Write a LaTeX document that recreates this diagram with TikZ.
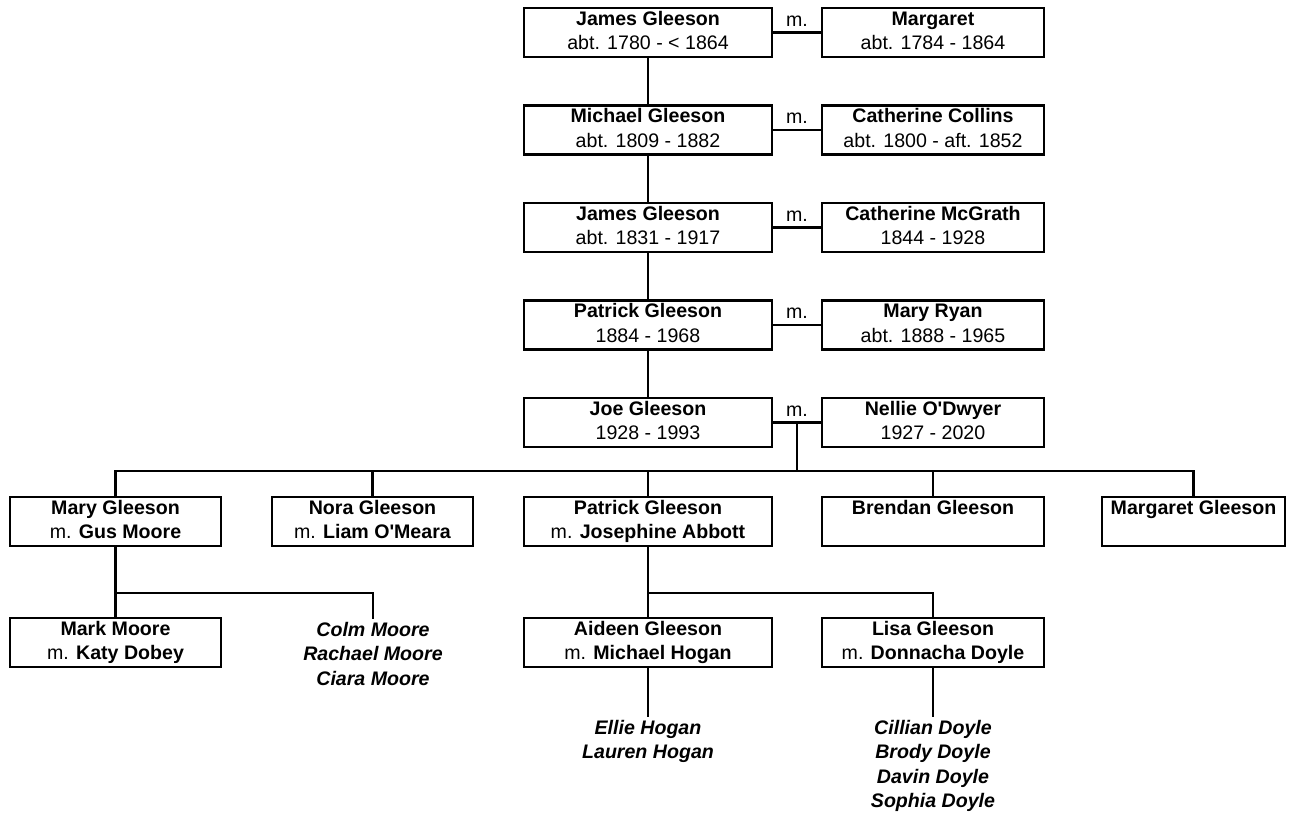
\documentclass[tikz,border=0pt]{standalone}
\usepackage{fontspec}
\newfontfamily\treefont{Liberation Sans}
\usepackage{tikz}
\usetikzlibrary{shadows}

\newcommand{\treesize}{\treefont\fontsize{9.8}{12.25}\selectfont}
\newcommand{\pname}[2]{\textbf{#1}\strut\\#2\strut}

\begin{document}
\begin{tikzpicture}[x=0.5pt, y=-0.5pt, line width=1.1pt, line cap=rect,
  font=\treesize,
  person/.style={draw, fill=white, minimum height=24.5pt, inner sep=0pt, align=center,
    drop shadow={shadow xshift=0.5pt, shadow yshift=-0.5pt, fill=black, opacity=1}},
  wide/.style={person, minimum width=124pt},
  narrow/.style={person, minimum width=111pt},
  sibs/.style={align=center, inner sep=0pt, anchor=north, font=\treesize\bfseries\itshape},
  wed/.style={above, inner sep=2.5pt}]
\useasboundingbox (0,0) rectangle (1294,815);

% direct line
\node[wide] (james1) at (648,32.5) {\pname{James Gleeson}{abt. 1780 - < 1864}};
\node[narrow] (margaret) at (933,32.5) {\pname{Margaret}{abt. 1784 - 1864}};
\node[wide] (michael) at (648,130) {\pname{Michael Gleeson}{abt. 1809 - 1882}};
\node[narrow] (collins) at (933,130) {\pname{Catherine Collins}{abt. 1800 - aft. 1852}};
\node[wide] (james2) at (648,227.5) {\pname{James Gleeson}{abt. 1831 - 1917}};
\node[narrow] (mcgrath) at (933,227.5) {\pname{Catherine McGrath}{1844 - 1928}};
\node[wide] (patrick1) at (648,325) {\pname{Patrick Gleeson}{1884 - 1968}};
\node[narrow] (ryan) at (933,325) {\pname{Mary Ryan}{abt. 1888 - 1965}};
\node[wide] (joe) at (648,422.5) {\pname{Joe Gleeson}{1928 - 1993}};
\node[narrow] (nellie) at (933,422.5) {\pname{Nellie O\textquotesingle Dwyer}{1927 - 2020}};

\draw (james1) -- node[wed] {m.} (margaret);
\draw (michael) -- node[wed] {m.} (collins);
\draw (james2) -- node[wed] {m.} (mcgrath);
\draw (patrick1) -- node[wed] {m.} (ryan);
\draw (joe) -- node[wed] {m.} coordinate[midway] (jn) (nellie);
\draw (james1) -- (michael);
\draw (michael) -- (james2);
\draw (james2) -- (patrick1);
\draw (patrick1) -- (joe);

% children of Joe and Nellie
\node[person, minimum width=105.5pt] (mary) at (115.5,521.5) {\pname{Mary Gleeson}{m. \textbf{Gus Moore}}};
\node[person, minimum width=100.5pt] (nora) at (372.5,521.5) {\pname{Nora Gleeson}{m. \textbf{Liam O\textquotesingle Meara}}};
\node[wide] (patrick2) at (648,521.5) {\pname{Patrick Gleeson}{m. \textbf{Josephine Abbott}}};
\node[narrow] (brendan) at (933,521.5) {\pname{Brendan Gleeson}{}};
\node[person, minimum width=91.5pt] (margaretg) at (1193.5,521.5) {\pname{Margaret Gleeson}{}};

\coordinate (kidbar) at (0,471);
\draw (jn) -- (jn |- kidbar);
\draw (mary.north |- kidbar) -- (margaretg.north |- kidbar);
\foreach \k in {mary,nora,patrick2,brendan,margaretg}
  \draw (\k.north |- kidbar) -- (\k);

% grandchildren
\node[person, minimum width=105.5pt] (mark) at (115.5,642.5) {\pname{Mark Moore}{m. \textbf{Katy Dobey}}};
\node[sibs] (moores) at (373,618) {\strut Colm Moore\\Rachael Moore\\Ciara Moore};
\node[wide] (aideen) at (648,642.5) {\pname{Aideen Gleeson}{m. \textbf{Michael Hogan}}};
\node[narrow] (lisa) at (933,642.5) {\pname{Lisa Gleeson}{m. \textbf{Donnacha Doyle}}};
\node[sibs] (hogans) at (648,716) {\strut Ellie Hogan\\Lauren Hogan};
\node[sibs] (doyles) at (933,716) {\strut Cillian Doyle\\Brody Doyle\\Davin Doyle\\Sophia Doyle};

\coordinate (grandbar) at (0,593);
\draw (mary) -- (mark);
\draw (mary.south |- grandbar) -| (moores);
\draw (patrick2) -- (aideen);
\draw (patrick2.south |- grandbar) -| (lisa);
\draw (aideen) -- (hogans);
\draw (lisa) -- (doyles);
\end{tikzpicture}
\end{document}
